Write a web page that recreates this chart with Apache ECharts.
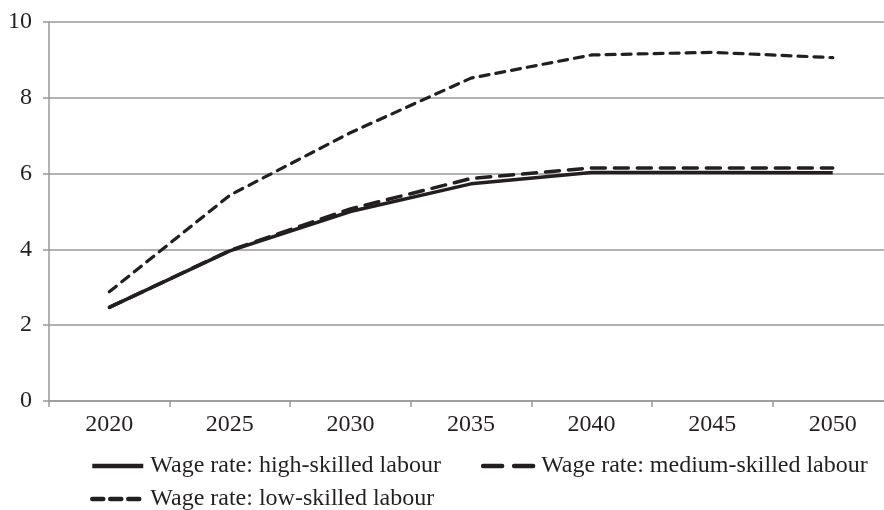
<!DOCTYPE html>
<html><head><meta charset="utf-8">
<script src="https://cdn.jsdelivr.net/npm/echarts@6/dist/echarts.min.js"></script>
<style>html,body{margin:0;padding:0;background:#fff;overflow:hidden}#c{width:893px;height:510px}</style>
</head><body><div id="c"></div>
<script>
const years = ['2020','2025','2030','2035','2040','2045','2050'];
const highSkilled = [2.47, 3.96, 5.0, 5.73, 6.03, 6.03, 6.02];
const mediumSkilled = [2.47, 3.97, 5.07, 5.87, 6.15, 6.15, 6.15];
const lowSkilled = [2.88, 5.43, 7.08, 8.52, 9.13, 9.2, 9.06];
const yTicks = [0, 2, 4, 6, 8, 10];
const names = ['Wage rate: high-skilled labour','Wage rate: medium-skilled labour','Wage rate: low-skilled labour'];

const FONT = 'Liberation Serif';
const ink = '#231f20';
const FS = 24;
const legendBase = {padding:0, itemWidth:51, itemHeight:12, textStyle:{color:ink, fontFamily:FONT, fontSize:FS, padding:[0,0,0,2]},
  itemStyle:{opacity:0}, inactiveColor:ink};
const chart = echarts.init(document.getElementById('c'), null, {renderer:'canvas'});
chart.setOption({
  animation:false,
  grid:{left:49, top:22, right:0, height:379, containLabel:false},
  xAxis:{type:'category', data:years, boundaryGap:true,
    axisLine:{lineStyle:{color:'#999', width:1.5}},
    axisTick:{show:true, length:6, lineStyle:{color:'#999', width:1.5}},
    axisLabel:{color:ink, fontFamily:FONT, fontSize:FS, margin:12}},
  yAxis:{type:'value', min:yTicks[0], max:yTicks[yTicks.length-1], interval:2,
    axisLine:{show:true, lineStyle:{color:'#999', width:1.5}},
    axisTick:{show:true, length:6, lineStyle:{color:'#999', width:1.5}},
    splitLine:{lineStyle:{color:'#999', width:1.5}},
    axisLabel:{color:ink, fontFamily:FONT, fontSize:FS, margin:17}},
  legend:[
    Object.assign({left:90, top:454, itemGap:40, selectedMode:false,
      data:[{name:names[0], lineStyle:{width:4.5, type:'solid'}},
            {name:names[1], lineStyle:{width:4.5, type:[19,12], cap:'round'}}]}, legendBase),
    Object.assign({left:90, top:487, selectedMode:false,
      data:[{name:names[2], lineStyle:{width:4.5, type:[11,7], cap:'round'}}]}, legendBase)
  ],
  series:[
    {name:names[0], type:'line', data:highSkilled, symbol:'none', lineStyle:{color:ink, width:3.5, type:'solid'}, itemStyle:{color:ink}},
    {name:names[1], type:'line', data:mediumSkilled, symbol:'none', lineStyle:{color:ink, width:3.5, type:[14,9], cap:'round'}, itemStyle:{color:ink}},
    {name:names[2], type:'line', data:lowSkilled, symbol:'none', lineStyle:{color:ink, width:3.2, type:[9,7], cap:'round'}, itemStyle:{color:ink}}
  ]
});
</script></body></html>
